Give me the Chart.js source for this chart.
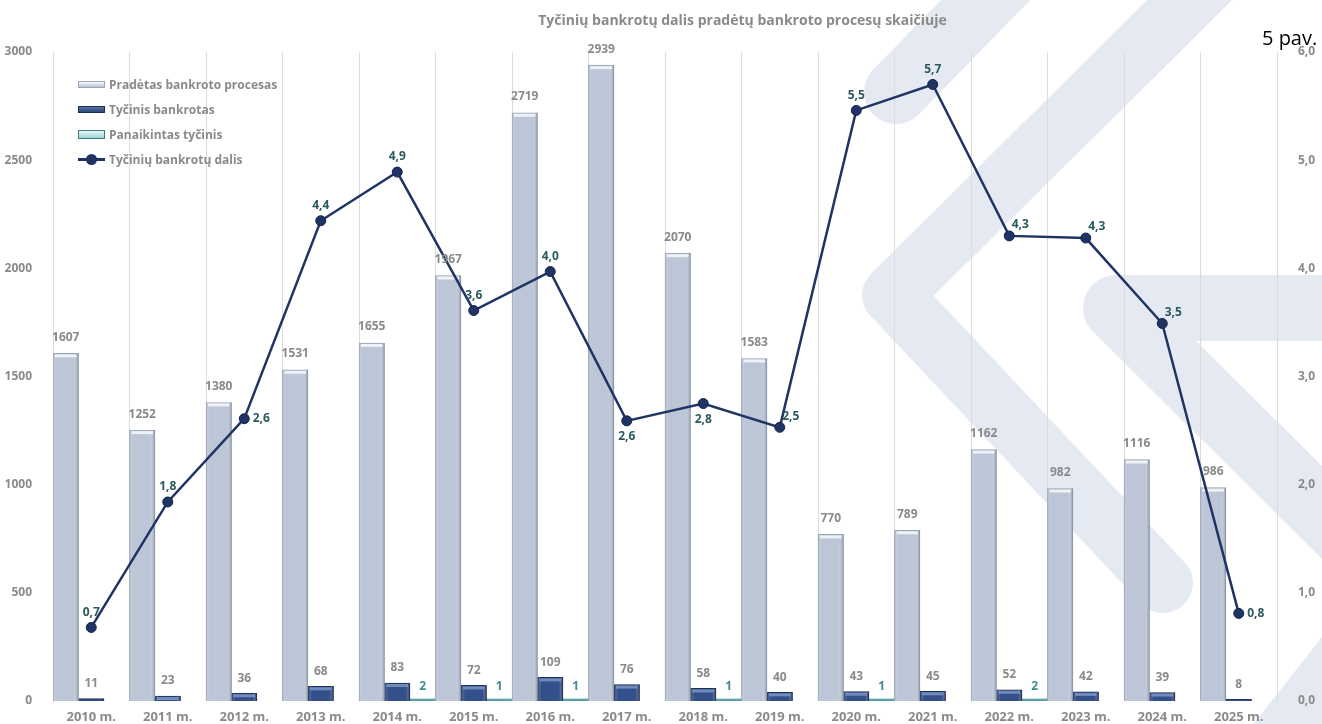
<!DOCTYPE html>
<html lang="lt">
<head>
<meta charset="utf-8">
<title>Tyčinių bankrotų dalis</title>
<script src="https://cdn.jsdelivr.net/npm/chart.js@4.4.1/dist/chart.umd.min.js"></script>
<style>
    html, body { margin: 0; padding: 0; background: #fff; }
    #wrap { position: relative; width: 1322px; height: 724px; overflow: hidden; }
    #grafikas { position: absolute; left: 0; top: 0; }
    .antraste {
        position: absolute; left: 520px; top: 10px; width: 445px; text-align: center;
        font: bold 14px "Open Sans", sans-serif; color: #8a8a8a; white-space: nowrap;
    }
    .pav {
        position: absolute; left: 1262px; top: 24px;
        font: 20px "Open Sans", sans-serif; color: #000; white-space: nowrap;
    }
    .legenda { position: absolute; left: 78px; top: 72px; }
    .legenda div {
        height: 25px; display: flex; align-items: center;
        font: bold 12px "Open Sans", sans-serif; color: #8a8a8a; white-space: nowrap;
    }
    .legenda .zenklas { width: 27px; height: 7px; margin-right: 4px; box-sizing: border-box; }
    .z1 { background: linear-gradient(#f7f9fc, #b9c3d3); border: 1px solid #9aa5b8; }
    .z2 { background: linear-gradient(#5a75a8, #2c4576); border: 1px solid #1c2d52; }
    .z3 { background: linear-gradient(#e6f6f6, #9fd3d4); border: 1px solid #3d7f82; height: 9px !important; }
    .z4 { position: relative; }
    .z4::before { content: ""; position: absolute; left: 0; right: 0; top: 2px; height: 3px; background: #1f3464; }
    .z4::after { content: ""; position: absolute; left: 8px; top: -2px; width: 11px; height: 11px; border-radius: 50%; background: #1f3464; }
</style>
</head>
<body>
<div id="wrap">
    <canvas id="grafikas" width="1322" height="724"></canvas>
    <div class="antraste">Tyčinių bankrotų dalis pradėtų bankroto procesų skaičiuje</div>
    <div class="pav">5 pav.</div>
    <div class="legenda">
        <div><span class="zenklas z1"></span>Pradėtas bankroto procesas</div>
        <div><span class="zenklas z2"></span>Tyčinis bankrotas</div>
        <div><span class="zenklas z3"></span>Panaikintas tyčinis</div>
        <div><span class="zenklas z4"></span>Tyčinių bankrotų dalis</div>
    </div>
</div>
<script>
// Duomenys (nuskaityti iš paveikslo)
const metai = ["2010 m.", "2011 m.", "2012 m.", "2013 m.", "2014 m.", "2015 m.", "2016 m.", "2017 m.",
               "2018 m.", "2019 m.", "2020 m.", "2021 m.", "2022 m.", "2023 m.", "2024 m.", "2025 m."];
const pradeti = [1607, 1252, 1380, 1531, 1655, 1967, 2719, 2939, 2070, 1583, 770, 789, 1162, 982, 1116, 986];
const tyciniai = [11, 23, 36, 68, 83, 72, 109, 76, 58, 40, 43, 45, 52, 42, 39, 8];
const panaikinti = [0, 0, 0, 0, 2, 1, 1, 0, 1, 0, 1, 0, 2, 0, 0, 0];
const dalis = [0.68, 1.84, 2.61, 4.44, 4.89, 3.61, 3.97, 2.59, 2.75, 2.53, 5.46, 5.70, 4.30, 4.28, 3.49, 0.81];

// Ašių žymos
const kairesZymos = [0, 500, 1000, 1500, 2000, 2500, 3000];
const desinesZymos = [0, 1, 2, 3, 4, 5, 6];

// kur dėti linijos reikšmių etiketes
const etiketesVieta = ["top", "top", "right", "top", "top", "top", "top", "bottom",
                       "bottom", "topright", "top", "top", "topright", "topright", "topright", "right"];

const pilka = "#8a8a8a";
const tamsiZalia = "#2b5a5e";

Chart.defaults.font.family = "'Open Sans', sans-serif";
Chart.defaults.font.size = 12;
Chart.defaults.font.weight = "bold";
Chart.defaults.color = pilka;

// Fono vandens ženklas (šviesios įstrižos juostos)
const vandensZenklas = {
    id: "vandensZenklas",
    beforeDraw(chart) {
        const c = chart.ctx;
        c.save();
        c.strokeStyle = "#e5eaf2";
        c.lineCap = "round";
        c.lineJoin = "round";
        c.lineWidth = 64;
        c.beginPath();
        c.moveTo(1010, -25); c.lineTo(896, 92);
        c.stroke();
        c.lineWidth = 60;
        c.beginPath();
        c.moveTo(1215, -25); c.lineTo(892, 295); c.lineTo(1163, 583);
        c.stroke();
        c.lineWidth = 66;
        c.beginPath();
        c.moveTo(1370, 308); c.lineTo(1116, 308); c.lineTo(1370, 560);
        c.stroke();
        c.lineWidth = 64;
        c.beginPath();
        c.moveTo(1258, 770); c.lineTo(1380, 615);
        c.stroke();
        c.restore();
    }
};

// 3D įspūdis stulpeliams
const stulpeliuSeseliai = {
    id: "stulpeliuSeseliai",
    afterDatasetDraw(chart, args) {
        if (args.index > 1) return;
        const c = chart.ctx;
        c.save();
        args.meta.data.forEach(el => {
            const w = el.width, l = el.x - w / 2, h = el.base - el.y;
            if (h < 3) return;
            const g = c.createLinearGradient(l, 0, l + w, 0);
            if (args.index === 0) {
                g.addColorStop(0, "rgba(150,160,178,0.55)");
                g.addColorStop(0.12, "rgba(255,255,255,0.0)");
                g.addColorStop(0.8, "rgba(255,255,255,0.0)");
                g.addColorStop(1, "rgba(110,120,140,0.6)");
            } else {
                g.addColorStop(0, "rgba(20,35,70,0.5)");
                g.addColorStop(0.15, "rgba(255,255,255,0.0)");
                g.addColorStop(0.85, "rgba(255,255,255,0.0)");
                g.addColorStop(1, "rgba(15,25,55,0.6)");
            }
            c.fillStyle = g;
            c.fillRect(l, el.y, w, h);
            // šviesi viršutinė juostelė
            c.fillStyle = args.index === 0 ? "rgba(255,255,255,0.75)" : "rgba(140,165,210,0.7)";
            c.fillRect(l + 2, el.y + 1, w - 4, Math.min(3, h - 1));
        });
        c.restore();
    }
};

// Reikšmių etiketės virš stulpelių ir taškų
const etiketes = {
    id: "etiketes",
    afterDatasetsDraw(chart) {
        const c = chart.ctx;
        c.save();
        c.font = "bold 12px 'Open Sans', sans-serif";
        c.textAlign = "center";
        c.textBaseline = "middle";

        chart.getDatasetMeta(0).data.forEach((el, i) => {
            c.fillStyle = pilka;
            c.fillText(pradeti[i], el.x, el.y - 16);
        });
        chart.getDatasetMeta(1).data.forEach((el, i) => {
            c.fillStyle = pilka;
            c.fillText(tyciniai[i], el.x, el.y - 15);
        });
        chart.getDatasetMeta(2).data.forEach((el, i) => {
            if (!panaikinti[i]) return;
            c.fillStyle = "#3f8a8e";
            c.fillText(panaikinti[i], el.x, chart.chartArea.bottom - 14);
        });
        chart.getDatasetMeta(3).data.forEach((el, i) => {
            let dx = 0, dy = -15;
            const v = etiketesVieta[i];
            if (v === "right") { dx = 17; dy = 0; }
            if (v === "topright") { dx = 11; dy = -11; }
            if (v === "bottom") { dy = 16; }
            c.fillStyle = tamsiZalia;
            c.fillText(dalis[i].toFixed(1).replace(".", ","), el.x + dx, el.y + dy);
        });
        c.restore();
    }
};

const ctx = document.getElementById("grafikas").getContext("2d");
new Chart(ctx, {
    type: "bar",
    data: {
        labels: metai,
        datasets: [
            {
                label: "Pradėtas bankroto procesas",
                data: pradeti,
                backgroundColor: "#bcc6d6",
                borderColor: "#97a3b7",
                borderWidth: 1,
                yAxisID: "y",
                order: 2
            },
            {
                label: "Tyčinis bankrotas",
                data: tyciniai,
                backgroundColor: "#34508a",
                borderColor: "#1c2d52",
                borderWidth: 1,
                yAxisID: "y",
                order: 2
            },
            {
                label: "Panaikintas tyčinis",
                data: panaikinti.map(v => v || null),
                backgroundColor: "#5aa3a6",
                borderWidth: 0,
                minBarLength: 2,
                yAxisID: "y",
                order: 2
            },
            {
                type: "line",
                label: "Tyčinių bankrotų dalis",
                data: dalis,
                borderColor: "#1f3464",
                borderWidth: 2.5,
                pointRadius: 5,
                pointBackgroundColor: "#1f3464",
                pointBorderColor: "#14224a",
                pointBorderWidth: 1,
                tension: 0,
                yAxisID: "y1",
                order: 1
            }
        ]
    },
    options: {
        responsive: false,
        animation: false,
        devicePixelRatio: 1,
        layout: { padding: { top: 52, left: 0, right: 0, bottom: 0 } },
        datasets: {
            bar: { categoryPercentage: 1.0, barPercentage: 1.0 }
        },
        plugins: {
            legend: { display: false },
            title: { display: false },
            tooltip: { enabled: false }
        },
        scales: {
            x: {
                grid: { display: true, color: "#dcdcdc", drawTicks: false, offset: true },
                border: { display: false },
                ticks: { color: pilka, padding: 8, maxRotation: 0, font: { size: 13 } },
                afterFit: s => { s.height = 23; }
            },
            y: {
                position: "left",
                min: 0,
                max: 3000,
                afterBuildTicks: s => { s.ticks = kairesZymos.map(v => ({ value: v })); },
                grid: { display: false },
                border: { display: true, color: "#dcdcdc" },
                ticks: { color: pilka, padding: 13, callback: v => String(v) },
                afterFit: s => { s.width = 53; }
            },
            y1: {
                position: "right",
                min: 0,
                max: 6,
                afterBuildTicks: s => { s.ticks = desinesZymos.map(v => ({ value: v })); },
                grid: { display: false },
                border: { display: true, color: "#dcdcdc" },
                ticks: {
                    color: pilka,
                    padding: 13,
                    callback: v => Number(v).toFixed(1).replace(".", ",")
                },
                afterFit: s => { s.width = 45; }
            }
        }
    },
    plugins: [vandensZenklas, stulpeliuSeseliai, etiketes]
});
</script>
</body>
</html>
